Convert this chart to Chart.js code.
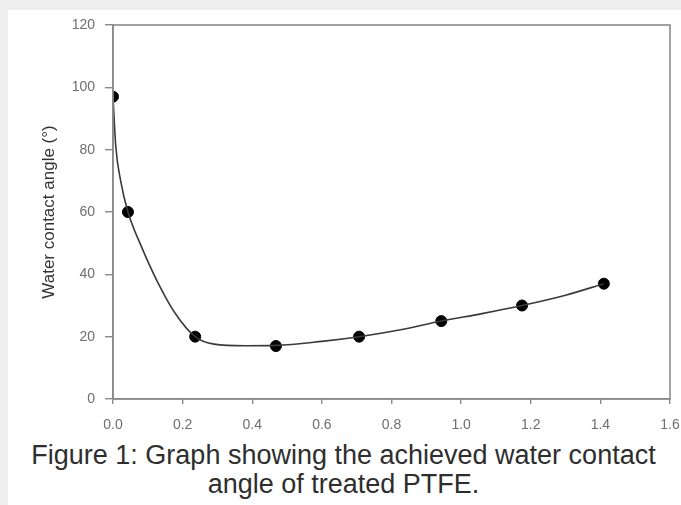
<!DOCTYPE html>
<html>
<head>
<meta charset="utf-8">
<script src="https://cdn.jsdelivr.net/npm/chart.js@4"></script>
<style>
  html, body { margin: 0; padding: 0; background: #efefef; width: 681px; height: 505px; overflow: hidden; }
  #panel { position: absolute; left: 8px; top: 10px; width: 673px; height: 495px; background: #fff; }
  #wrap { position: absolute; left: 0; top: 0; width: 681px; height: 440px; }
  #caption { position: absolute; left: 0; top: 441px; width: 687px; text-align: center;
    font-family: "Liberation Sans", Arial, sans-serif; font-size: 27px; line-height: 29px; color: #2e2e2e; }
</style>
</head>
<body>
<div id="panel"></div>
<div id="wrap"><canvas id="c" width="681" height="440"></canvas></div>
<div id="caption">Figure 1: Graph showing the achieved water contact<br>angle of treated PTFE.</div>
<script>
// Measured points
const pointX = [0, 0.043, 0.236, 0.468, 0.707, 0.943, 1.175, 1.41];
const pointY = [97, 60, 20, 17, 20, 25, 30, 37];
// Fitted curve
const curveX = [0, 0.008, 0.022, 0.043, 0.082, 0.126, 0.178, 0.236, 0.29, 0.38, 0.468, 0.6, 0.707, 0.83, 0.943, 1.06, 1.175, 1.3, 1.41];
const curveY = [97, 81, 70, 60, 48.8, 38, 27.6, 20, 17.6, 17.1, 17.2, 18.5, 20, 22.3, 25, 27.4, 30, 33.3, 37];
const xTicks = [0, 0.2, 0.4, 0.6, 0.8, 1.0, 1.2, 1.4, 1.6];
const yTicks = [0, 20, 40, 60, 80, 100, 120];
const yTitle = 'Water contact angle (°)';

const frame = {
  id: 'frame',
  afterDatasetsDraw(chart) {
    const a = chart.chartArea, ctx = chart.ctx;
    ctx.save();
    ctx.strokeStyle = '#8a8a8a';
    ctx.lineWidth = 1.6;
    ctx.strokeRect(a.left, a.top, a.right - a.left, a.bottom - a.top);
    ctx.restore();
  }
};

new Chart(document.getElementById('c'), {
  type: 'scatter',
  data: {
    datasets: [
      {
        data: curveX.map((x, i) => ({x, y: curveY[i]})),
        showLine: true,
        borderColor: '#3a3a3a',
        borderWidth: 1.6,
        pointRadius: 0,
        cubicInterpolationMode: 'monotone',
        fill: false
      },
      {
        data: pointX.map((x, i) => ({x, y: pointY[i]})),
        showLine: false,
        backgroundColor: '#000',
        borderColor: '#000',
        pointRadius: 5.5,
        pointHoverRadius: 5.5
      }
    ]
  },
  options: {
    responsive: false,
    animation: false,
    events: [],
    layout: { padding: { left: 0, top: 25, right: 0, bottom: 0 } },
    plugins: { legend: { display: false }, tooltip: { enabled: false } },
    scales: {
      x: {
        type: 'linear', min: 0, max: 1.6,
        afterBuildTicks(s) { s.ticks = xTicks.map(v => ({value: v})); },
        afterFit(s) { s.height = 41; s.paddingRight = 11; s.paddingLeft = 0; },
        grid: { display: true, drawOnChartArea: false, drawTicks: true, tickLength: 5, color: '#8a8a8a', lineWidth: 1.4 },
        border: { display: true, color: '#8a8a8a', width: 1.6 },
        ticks: { color: '#6e6e6e', padding: 13, font: { family: 'Liberation Sans, Arial', size: 14 },
          callback: v => v.toFixed(1), maxRotation: 0, autoSkip: false }
      },
      y: {
        type: 'linear', min: 0, max: 120,
        afterBuildTicks(s) { s.ticks = yTicks.map(v => ({value: v})); },
        afterFit(s) { s.width = 113; },
        grid: { display: true, drawOnChartArea: false, drawTicks: true, tickLength: 8, color: '#8a8a8a', lineWidth: 1.4 },
        border: { display: true, color: '#8a8a8a', width: 1.6 },
        ticks: { color: '#6e6e6e', padding: 10, font: { family: 'Liberation Sans, Arial', size: 14 }, autoSkip: false },
        title: { display: true, text: yTitle, color: '#333', padding: { top: 39, bottom: 0 },
          font: { family: 'Liberation Sans, Arial', size: 17 } }
      }
    }
  },
  plugins: [frame]
});
</script>
</body>
</html>
